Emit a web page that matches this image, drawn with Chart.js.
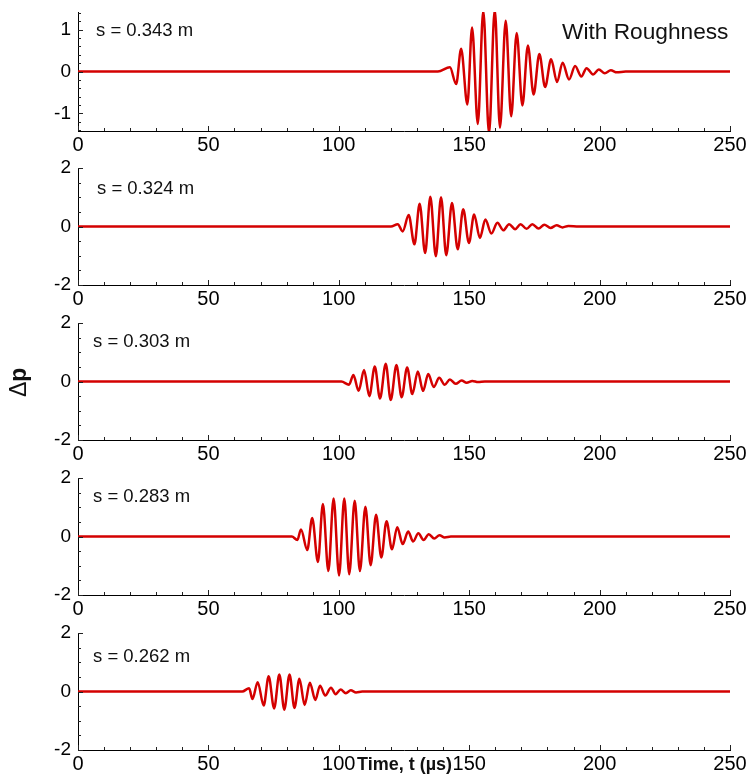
<!DOCTYPE html>
<html>
<head>
<meta charset="utf-8">
<script src="https://cdn.jsdelivr.net/npm/chart.js@4.4.1/dist/chart.umd.min.js"></script>
<style>
  body { margin: 0; background: #fff; overflow: hidden; }
  #wrap { position: relative; width: 749px; height: 774px; font-family: 'Liberation Sans', Arial, sans-serif; }
  .panel { position: absolute; left: 0; width: 749px; }
  .note { position: absolute; font-size: 18.5px; color: #111; line-height: 1; white-space: nowrap; }
</style>
</head>
<body>
<div id="wrap">
  <div class="panel" style="top:2px"><canvas id="c1" width="749" height="154"></canvas></div>
  <div class="panel" style="top:158px"><canvas id="c2" width="749" height="152"></canvas></div>
  <div class="panel" style="top:313px"><canvas id="c3" width="749" height="152"></canvas></div>
  <div class="panel" style="top:468px"><canvas id="c4" width="749" height="152"></canvas></div>
  <div class="panel" style="top:623px"><canvas id="c5" width="749" height="152"></canvas></div>

  <div class="note" style="left:96px;top:21px">s = 0.343 m</div>
  <div class="note" style="left:562px;top:20px;font-size:22.7px">With Roughness</div>
  <div class="note" style="left:97px;top:179px">s = 0.324 m</div>
  <div class="note" style="left:93px;top:332px">s = 0.303 m</div>
  <div class="note" style="left:93px;top:487px">s = 0.283 m</div>
  <div class="note" style="left:93px;top:647px">s = 0.262 m</div>

  <div class="note" style="left:7px;top:397px;font-size:23px;transform:rotate(-90deg);transform-origin:left top">Δ<b>p</b></div>
  <div class="note" style="left:357px;top:755px;font-size:18px;font-weight:bold">Time, t (µs)</div>
</div>

<script>
// s = 0.343 m
const t343 = [0, 138, 142.6, 145, 146.9, 149.3, 151.1, 153.3, 155.4, 157.6, 159.8, 161.8, 164, 166.1, 168.2, 170.4, 172.5, 174.7, 176.9, 179.1, 181.4, 183.7, 185.8, 188.3, 190.6, 193, 195, 197.5, 199.7, 202, 204.3, 206.6, 210, 250];
const p343 = [0, 0, 0.1, -0.3, 0.54, -0.79, 1.05, -1.25, 1.45, -1.48, 1.48, -1.34, 1.21, -1.07, 0.92, -0.81, 0.62, -0.55, 0.42, -0.37, 0.29, -0.25, 0.21, -0.19, 0.13, -0.12, 0.08, -0.07, 0.05, -0.04, 0.03, -0.02, 0, 0];
// s = 0.324 m
const t324 = [0, 120, 122.6, 124.5, 126.8, 129, 131, 133.1, 135.1, 137.2, 139.2, 141.2, 143.4, 145.6, 147.7, 149.9, 151.9, 154.1, 156.2, 158.5, 160.8, 163.1, 165.3, 167.6, 169.7, 172, 174.2, 176.6, 178.8, 181.2, 183.5, 185.8, 188, 192, 250];
const p324 = [0, 0, 0.08, -0.17, 0.39, -0.61, 0.78, -0.91, 1.02, -1.02, 1.0, -0.98, 0.8, -0.78, 0.59, -0.56, 0.41, -0.39, 0.24, -0.24, 0.13, -0.13, 0.08, -0.09, 0.08, -0.08, 0.08, -0.07, 0.06, -0.05, 0.04, -0.03, 0.02, 0, 0];
// s = 0.303 m
const t303 = [0, 101, 103.9, 105.6, 107.6, 109.7, 111.7, 113.8, 115.8, 118, 119.9, 122.1, 124.1, 126.2, 128.2, 130.3, 132.3, 134.3, 136.4, 138.5, 140.6, 142.6, 144.8, 147.1, 149, 151.2, 153.4, 156, 250];
const p303 = [0, 0, -0.11, 0.22, -0.32, 0.39, -0.5, 0.51, -0.58, 0.61, -0.63, 0.56, -0.54, 0.48, -0.43, 0.34, -0.32, 0.26, -0.19, 0.13, -0.11, 0.07, -0.08, 0.03, -0.04, 0.02, -0.02, 0, 0];
// s = 0.283 m
const t283 = [0, 82, 84.1, 85.5, 87.9, 89.8, 92, 93.9, 96, 98, 100.1, 102.1, 104, 106.1, 108.1, 110.2, 112.2, 114.3, 116.3, 118.3, 120.4, 122.4, 124.5, 126.6, 128.5, 130.5, 132.5, 134.5, 136.6, 138.6, 140.6, 143, 250];
const p283 = [0, 0, -0.12, 0.24, -0.46, 0.63, -0.87, 1.11, -1.18, 1.3, -1.33, 1.3, -1.29, 1.22, -1.18, 1.02, -0.98, 0.74, -0.72, 0.52, -0.44, 0.32, -0.26, 0.17, -0.17, 0.11, -0.12, 0.08, -0.07, 0.04, -0.03, 0, 0];
// s = 0.262 m
const t262 = [0, 63, 65.6, 66.9, 68.9, 71.2, 73.1, 75.2, 77.2, 79.1, 81.1, 83, 84.9, 86.9, 88.9, 91, 92.8, 94.8, 97, 98.8, 100.7, 102.7, 104.6, 106.6, 109, 250];
const p262 = [0, 0, 0.11, -0.26, 0.32, -0.48, 0.52, -0.58, 0.58, -0.62, 0.58, -0.56, 0.44, -0.46, 0.3, -0.29, 0.2, -0.14, 0.13, -0.09, 0.07, -0.06, 0.04, -0.03, 0, 0];

const xTicks = [0, 50, 100, 150, 200, 250];
const yTicksTop = [-1, 0, 1];
const yTicks = [-2, 0, 2];

// tick marks drawn inside the plot, like the original
const inwardTicks = {
  id: 'inwardTicks',
  afterDraw(chart, args, opts) {
    const { ctx, chartArea: a, scales: { x, y } } = chart;
    ctx.save();
    ctx.strokeStyle = '#222';
    ctx.lineWidth = 1;
    ctx.beginPath();
    for (let i = 0; i <= 25; i++) {
      const px = Math.round(x.getPixelForValue(i * 10)) + 0.5;
      const len = i % 5 === 0 ? 5 : 3;
      ctx.moveTo(px, a.bottom);
      ctx.lineTo(px, a.bottom - len);
    }
    for (let i = -opts.n; i <= opts.n; i++) {
      const py = Math.round(y.getPixelForValue(i * opts.step)) + 0.5;
      const len = i % opts.every === 0 ? 5 : 3;
      ctx.moveTo(a.left, py);
      ctx.lineTo(a.left + len, py);
    }
    ctx.stroke();
    ctx.restore();
  }
};

function makePanel(id, times, values, ymin, ymax, yLabels, tickOpts) {
  new Chart(document.getElementById(id), {
    type: 'line',
    data: {
      datasets: [{
        data: times.map((t, i) => ({ x: t, y: values[i] })),
        borderColor: '#d40000',
        borderWidth: 2.5,
        pointRadius: 0,
        cubicInterpolationMode: 'monotone'
      }]
    },
    options: {
      responsive: false,
      animation: false,
      devicePixelRatio: 1,
      layout: { padding: { top: 10, right: 19, left: 0, bottom: 0 } },
      plugins: { legend: { display: false }, tooltip: { enabled: false }, inwardTicks: tickOpts },
      scales: {
        x: {
          type: 'linear', min: 0, max: 250,
          afterBuildTicks: s => { s.ticks = xTicks.map(v => ({ value: v })); },
          afterFit: s => { s.height = 25; s.paddingLeft = 0; s.paddingRight = 0; },
          ticks: { color: '#000', padding: 2, maxRotation: 0, font: { family: 'Liberation Sans', size: 20 } },
          grid: { display: false, drawTicks: false },
          border: { display: true, color: '#000', width: 1 }
        },
        y: {
          min: ymin, max: ymax,
          afterBuildTicks: s => { s.ticks = yLabels.map(v => ({ value: v })); },
          afterFit: s => { s.width = 78; s.paddingTop = 0; s.paddingBottom = 0; },
          ticks: { color: '#000', padding: 7, font: { family: 'Liberation Sans', size: 19 } },
          grid: { display: false, drawTicks: false },
          border: { display: true, color: '#000', width: 1 }
        }
      }
    },
    plugins: [inwardTicks]
  });
}

makePanel('c1', t343, p343, -1.42, 1.42, yTicksTop, { step: 0.2, n: 7, every: 5 });
makePanel('c2', t324, p324, -2, 2, yTicks, { step: 0.5, n: 4, every: 4 });
makePanel('c3', t303, p303, -2, 2, yTicks, { step: 0.5, n: 4, every: 4 });
makePanel('c4', t283, p283, -2, 2, yTicks, { step: 0.5, n: 4, every: 4 });
makePanel('c5', t262, p262, -2, 2, yTicks, { step: 0.5, n: 4, every: 4 });
</script>
</body>
</html>
